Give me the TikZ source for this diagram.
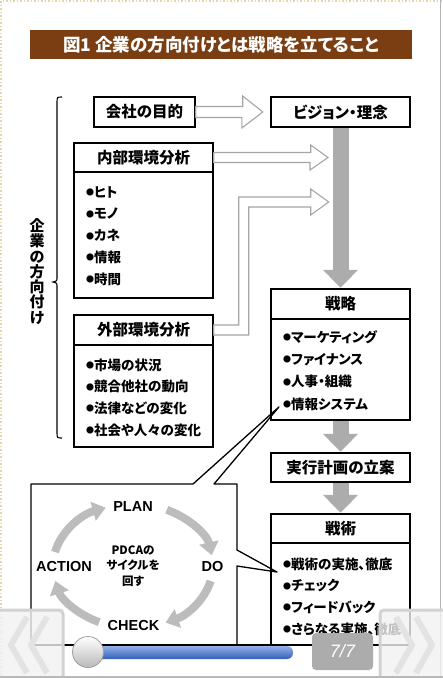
\documentclass[tikz,border=0pt]{standalone}
\usepackage{fontspec}
\usepackage{xcolor}
\usetikzlibrary{arrows.meta,calc}
\setmainfont{Noto Sans CJK JP}[RawFeature=+palt]
\newfontfamily\latinfont{Liberation Sans}
\definecolor{titlebrown}{RGB}{122, 62, 18}
\definecolor{flowgray}{RGB}{172, 172, 172}
\definecolor{hollowgray}{RGB}{165, 165, 165}
\definecolor{cyclegray}{RGB}{188, 188, 188}
\definecolor{sliderblue}{RGB}{58, 112, 214}
\definecolor{pageedge}{RGB}{226, 216, 172}
\newcommand{\itembul}{\raisebox{1.6pt}{\fontsize{8}{8}\selectfont ●}}

\begin{document}
\begin{tikzpicture}[x=1pt, y=-1pt,
    panel/.style={draw, line width=1.4pt, fill=white, inner sep=0pt},
    hdtext/.style={font=\fontsize{15.5}{16}\selectfont\bfseries},
    item/.style={anchor=west, inner sep=0pt, font=\fontsize{13.5}{14}\selectfont\bfseries},
    bigarrow/.style={draw=flowgray, line width=16pt, shorten >=1pt, -{Triangle[width=34pt,length=18pt]}},
    hollow/.style={draw=hollowgray, line width=1.1pt, fill=white},
    cycarrow/.style={draw=cyclegray, line width=8pt, -{Triangle[width=19pt,length=13pt]}},
    pdca/.style={inner sep=0pt, font=\latinfont\fontsize{14.5}{15}\selectfont\bfseries}]
    \useasboundingbox (0,0) rectangle (443,678);
    \fill[white] (0,0) rectangle (443,678);

    % Page edges
    \draw[pageedge, dotted, line width=1.5pt] (0.8,678) -- (0.8,0.8) -- (443,0.8);
    \draw[gray!60, line width=1.2pt] (440.5,0) -- (440.5,678);

    % Title bar
    \node[fill=titlebrown, minimum width=382pt, minimum height=29pt, text=white,
          font=\fontsize{17.5}{18}\selectfont\bfseries] (title) at (221,44.5)
          {図1 企業の方向付けとは戦略を立てること};

    % Brace and side label
    \draw[line width=1.1pt] (62,97) .. controls (57,97) .. (57,103) -- (57,277)
        .. controls (57,281) .. (53,282) .. controls (57,283) .. (57,287) -- (57,432)
        .. controls (57,438) .. (62,438);
    \node[align=center, inner sep=0pt, font=\fontsize{15}{15.3}\selectfont\bfseries] (houkou) at (37,271.5)
        {企\\業\\の\\方\\向\\付\\け};

    % Coordinates of the boxes
    \coordinate (mokutekiC) at (144.5,112);
    \coordinate (visionC) at (340.5,112);
    \coordinate (senryakuC) at (340.5,354.5);
    \coordinate (jikkoC) at (340.5,467.5);
    \coordinate (senjutsuC) at (340.5,579.5);

    % Grey flow arrows (drawn under the boxes)
    \node[inner sep=0pt, minimum width=139pt, minimum height=30pt] (visionB) at (visionC) {};
    \node[inner sep=0pt, minimum width=139pt, minimum height=131pt] (senryakuB) at (senryakuC) {};
    \node[inner sep=0pt, minimum width=139pt, minimum height=29pt] (jikkoB) at (jikkoC) {};
    \node[inner sep=0pt, minimum width=139pt, minimum height=131pt] (senjutsuB) at (senjutsuC) {};
    \draw[bigarrow] (visionB.south) -- (senryakuB.north);
    \draw[bigarrow] (senryakuB.south) -- (jikkoB.north);
    \draw[bigarrow] (jikkoB.south) -- (senjutsuB.north);

    % Left column
    \node[panel, hdtext, minimum width=101pt, minimum height=30pt] (mokuteki) at (mokutekiC) {会社の目的};
    \node[panel, minimum width=139pt, minimum height=155pt] (naibu) at (143.5,220.5) {};
    \node[panel, hdtext, minimum width=139pt, minimum height=29pt, anchor=north] (naibuH) at (naibu.north) {内部環境分析};
    \foreach \t [count=\i] in {ヒト,モノ,カネ,情報,時間}
        \node[item] (naibu-\i) at (86,{192+21.8*(\i-1)}) {\itembul\t};

    \node[panel, minimum width=139pt, minimum height=132pt] (gaibu) at (143.5,381) {};
    \node[panel, hdtext, minimum width=139pt, minimum height=30pt, anchor=north] (gaibuH) at (gaibu.north) {外部環境分析};
    \foreach \t [count=\i] in {市場の状況,競合他社の動向,法律などの変化,社会や人々の変化}
        \node[item] (gaibu-\i) at (86,{365+21.7*(\i-1)}) {\itembul\t};

    % Hollow arrows
    \draw[hollow] ($(mokuteki.east)+(0,-5.5)$) -- ++(47,0) -- ++(0,-10.5) -- ($(visionB.west)+(-8,0)$)
        -- ++(-21,16) -- ++(0,-10.5) -- ($(mokuteki.east)+(0,5.5)$) -- cycle;
    \draw[hollow] ($(naibuH.east)+(0,-5)$) -- ++(97,0) -- ++(0,-7.5) -- ($(naibuH.east -| visionB.south)+(-12.5,0)$)
        -- ++(-18,12.5) -- ++(0,-7.5) -- ($(naibuH.east)+(0,5)$) -- cycle;
    \draw[hollow] ($(gaibuH.east)+(0,-5)$) -- ++(25,0) -- ++(0,-128) -- ++(72,0) -- ++(0,-8) -- ++(18,13)
        -- ++(-18,13) -- ++(0,-8) -- ++(-62,0) -- ++(0,128) -- ($(gaibuH.east)+(0,5)$) -- cycle;

    % Right column
    \node[panel, hdtext, minimum width=139pt, minimum height=30pt] (vision) at (visionC) {ビジョン・理念};
    \node[panel, minimum width=139pt, minimum height=131pt] (senryaku) at (senryakuC) {};
    \node[panel, hdtext, minimum width=139pt, minimum height=30pt, anchor=north] (senryakuH) at (senryaku.north) {戦略};
    \foreach \t [count=\i] in {マーケティング,ファイナンス,人事・組織,情報システム}
        \node[item] (senryaku-\i) at (283,{337+22.3*(\i-1)}) {\itembul\t};

    \node[panel, hdtext, minimum width=139pt, minimum height=29pt] (jikko) at (jikkoC) {実行計画の立案};

    \node[panel, minimum width=139pt, minimum height=131pt] (senjutsu) at (senjutsuC) {};
    \node[panel, hdtext, minimum width=139pt, minimum height=29pt, anchor=north] (senjutsuH) at (senjutsu.north) {戦術};
    \foreach \t [count=\i] in {戦術の実施、徹底,チェック,フィードバック,さらなる実施、徹底}
        \node[item] (senjutsu-\i) at (283,{564+21.7*(\i-1)}) {\itembul\t};

    % Callout with PDCA cycle
    \draw[line width=1.3pt, line join=round] (31,484) -- (193,484) -- ($(senryaku-4.west)+(-4,3)$) -- (214,484)
        -- (237,484) -- (237,550) -- ($(senjutsu-1.west)+(-6,8)$) -- (237,566) -- (237,645) -- (31,645) -- cycle;
    \draw[line width=1.3pt] (35,645) -- (408,645);

    \coordinate (cyc) at (133,566);
    \foreach \a/\b in {-65/-10, 14/66, 115/166, 193/250}
        \draw[cycarrow] ($(cyc)+(\a:80 and 62)$) arc[start angle=\a, end angle=\b, x radius=80, y radius=62];
    \node[pdca] (plan) at (133,507) {PLAN};
    \node[pdca] (do) at (212.5,567) {DO};
    \node[pdca] (check) at (133.5,626) {CHECK};
    \node[pdca] (action) at (64,567) {ACTION};
    \node[align=center, inner sep=0pt, font=\fontsize{11.5}{15.5}\selectfont\bfseries] (cycle) at (cyc)
        {PDCAの\\サイクルを\\回す};

    % Viewer controls
    \shade[top color=sliderblue!55!white, bottom color=sliderblue!85!black, rounded corners=6pt] (95,646) rectangle (293,659);
    \shade[top color=white, bottom color=gray!55, draw=gray!75, line width=0.8pt] (88,652) circle[radius=15.5];
    \node[fill=gray!65, rounded corners=4pt, minimum width=61pt, minimum height=37pt, text=white,
          font=\latinfont\itshape\fontsize{18}{18}\selectfont] (pageno) at (342.5,651.5) {7/7};
    \draw[draw=gray!35, line width=3pt, fill=gray!10, fill opacity=0.8, rounded corners=4pt] (-5,610) rectangle (63,690);
    \draw[draw=gray!35, line width=3pt, fill=gray!10, fill opacity=0.8, rounded corners=4pt] (380,610) rectangle (450,690);
    \foreach \dx in {0,20} {
        \draw[gray!22, line width=6pt] (27+\dx,617) -- (11+\dx,645) -- (27+\dx,673);
        \draw[gray!22, line width=6pt] (396+\dx,617) -- (412+\dx,645) -- (396+\dx,673);
    }
    \draw[gray!55, line width=2pt] (0,676.5) -- (443,676.5);
\end{tikzpicture}
\end{document}
